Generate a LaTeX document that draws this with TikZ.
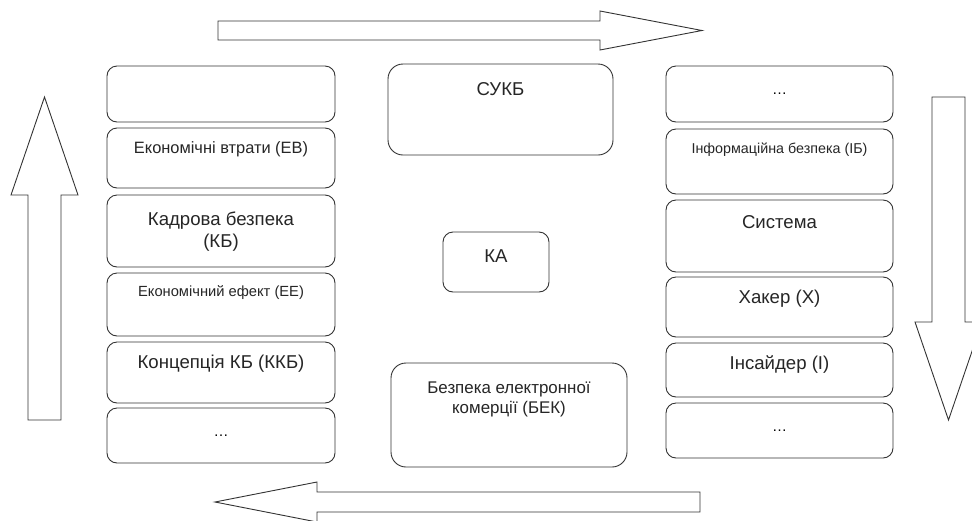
\documentclass[tikz,border=0pt]{standalone}
\usepackage{fontspec}
\setmainfont{Liberation Sans}
\usepackage{tikz}
\usetikzlibrary{positioning}
\newcommand{\rozmir}[1]{\fontsize{#1}{1.2\dimexpr#1pt\relax}\selectfont}

\begin{document}
\begin{tikzpicture}[x=1pt,y=-1pt]
        \tikzset{
          blok/.style={
            draw=black!80,line width=0.9pt,rounded corners=10pt,
            inner sep=0pt,fill=white,
          },
          blok lewy/.style={blok,minimum width=228pt},
          blok prawy/.style={blok,minimum width=227pt},
          napys/.style={anchor=center,align=center,text=black!85},
          strilka/.style={draw=black!80,line width=0.9pt,fill=white,line join=miter},
          }
        \useasboundingbox (0,0) rectangle (972,520);
        % left column
        \node[blok lewy, minimum height=56pt] (l1) at (221,94) {};
        \node[blok lewy, minimum height=60pt,
          label={[napys,font=\rozmir{16.4},yshift=-22pt]north:Економічні втрати (ЕВ)}] (ev) at (221,158) {};
        \node[blok lewy, minimum height=72pt,
          label={[napys,font=\rozmir{18.6},yshift=-37pt]north:Кадрова безпека\\(КБ)}] (kb) at (221,231) {};
        \node[blok lewy, minimum height=63pt,
          label={[napys,font=\rozmir{14.7},yshift=-20pt]north:Економічний ефект (ЕЕ)}] (ee) at (221,304.5) {};
        \node[blok lewy, minimum height=61pt,
          label={[napys,font=\rozmir{18.6},yshift=-22pt]north:Концепція КБ (ККБ)}] (kkb) at (221,372.5) {};
        \node[blok lewy, minimum height=55pt, font=\rozmir{15}] (l6) at (221,435.5) {…};
        % middle
        \node[blok, minimum width=225pt, minimum height=91pt, rounded corners=15pt,
          label={[napys,font=\rozmir{18.6},yshift=-26pt]north:СУКБ}] (sukb) at (500.5,109.5) {};
        \node[blok, minimum width=106pt, minimum height=60pt,
          label={[napys,font=\rozmir{18.6},yshift=-25pt]north:КА}] (ka) at (496,262) {};
        \node[blok, minimum width=236pt, minimum height=104pt, rounded corners=15pt,
          label={[napys,font=\rozmir{16.9},yshift=-37pt]north:Безпека електронної\\комерції (БЕК)}] (bek) at (509,415) {};
        % right column
        \node[blok prawy, minimum height=56pt, font=\rozmir{15}] (r1) at (779.5,94) {…};
        \node[blok prawy, minimum height=65pt,
          label={[napys,font=\rozmir{14.3},yshift=-21pt]north:Інформаційна безпека (ІБ)}] (ib) at (779.5,161.5) {};
        \node[blok prawy, minimum height=72pt,
          label={[napys,font=\rozmir{18.6},yshift=-23pt]north:Система}] (syst) at (779.5,236) {};
        \node[blok prawy, minimum height=60pt,
          label={[napys,font=\rozmir{18.6},yshift=-22pt]north:Хакер (Х)}] (khaker) at (779.5,307) {};
        \node[blok prawy, minimum height=54pt,
          label={[napys,font=\rozmir{18.6},yshift=-22pt]north:Інсайдер (І)}] (insaider) at (779.5,370) {};
        \node[blok prawy, minimum height=55pt, font=\rozmir{15}] (r6) at (779.5,430.5) {…};
        % big arrows
        \draw[strilka] (218,21) -- (600,21) -- (600,11) -- (702,30.5) -- (600,50)
          -- (600,40) -- (218,40) -- cycle;
        \draw[strilka] (700,492) -- (317,492) -- (317,482) -- (215,502) -- (317,522)
          -- (317,512) -- (700,512) -- cycle;
        \draw[strilka] (28,420) -- (28,195) -- (11,195) -- (44.5,97) -- (78,195)
          -- (61,195) -- (61,420) -- cycle;
        \draw[strilka] (932,97) -- (932,322) -- (915,322) -- (948.5,420) -- (982,322)
          -- (965,322) -- (965,97) -- cycle;
      \end{tikzpicture}
\end{document}
